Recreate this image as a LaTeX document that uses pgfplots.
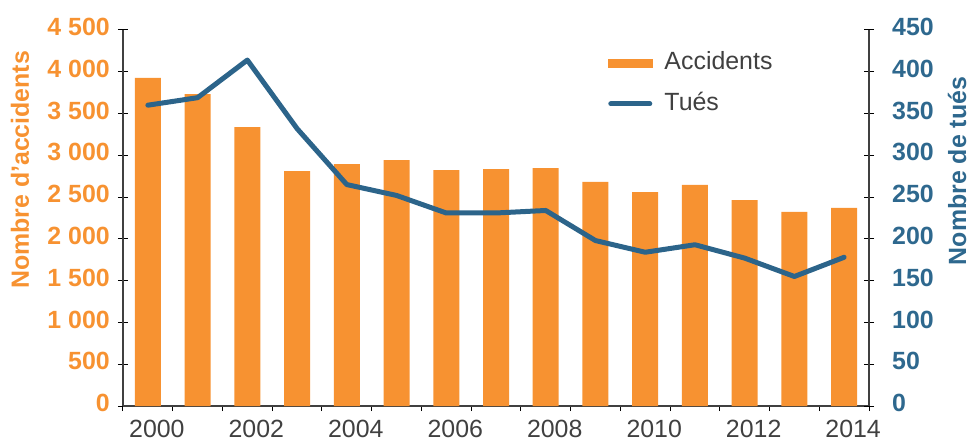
\documentclass[border=0pt]{standalone}
\usepackage{fontspec}
\setmainfont{Liberation Sans}
\usepackage{pgfplots}
\pgfplotsset{compat=1.18}

\definecolor{accorange}{RGB}{247,146,49}
\definecolor{killblue}{RGB}{44,100,138}
\definecolor{labblue}{RGB}{46,104,142}
\definecolor{txtgray}{RGB}{64,64,64}
\newcommand\lbl{\fontsize{25}{30}\selectfont}

\pgfplotsset{
  twoaxes/.style={
    width=746bp, height=376bp, scale only axis,
    xmin=-0.5, xmax=14.5,
    tick align=center,
    major tick length=10bp,
    minor tick length=5bp,
    tick style={color=black, line width=1bp},
    axis line style={color=txtgray, line width=1.3bp, -},
  }
}

\begin{document}
\begin{tikzpicture}
% accidents (bars, left axis)
\begin{axis}[twoaxes, name=main,
  axis x line*=bottom, axis y line*=left,
  ymin=0, ymax=4500,
  ytick={0,500,...,4500},
  yticklabels={0,500,1\ 000,1\ 500,2\ 000,2\ 500,3\ 000,3\ 500,4\ 000,4\ 500},
  yticklabel style={font=\lbl\bfseries, color=accorange, inner sep=0pt, xshift=-8bp, yshift=3bp},
  xtick={0,2,...,14},
  xticklabels={2000,2002,2004,2006,2008,2010,2012,2014},
  xticklabel style={font=\lbl, color=txtgray, inner sep=0pt, xshift=9bp, yshift=-9bp},
  major x tick style={draw=none},
  minor xtick={-0.5,0.5,...,14.5},
  minor x tick style={yshift=-2.5bp},
  ylabel={Nombre d'accidents},
  every axis y label/.style={at={(rel axis cs:0,0.628)}, xshift=-103bp, rotate=90, anchor=center,
    font=\lbl\bfseries, color=accorange},
]
\addplot[ybar, bar width=26bp, fill=accorange, draw=none] coordinates {
  (0,3926) (1,3734) (2,3339) (3,2812) (4,2896) (5,2944) (6,2824) (7,2836)
  (8,2848) (9,2681) (10,2561) (11,2645) (12,2465) (13,2322) (14,2370)
};
\end{axis}
% killed (line, right axis)
\begin{axis}[twoaxes,
  axis x line=none, axis y line*=right,
  ymin=0, ymax=450,
  ytick={0,50,...,450},
  yticklabels={0,50,100,150,200,250,300,350,400,450},
  yticklabel style={font=\lbl\bfseries, color=labblue, inner sep=0pt, anchor=west, xshift=18bp, yshift=3bp},
  ylabel={Nombre de tués},
  every axis y label/.style={at={(rel axis cs:1,0.625)}, xshift=88bp, rotate=90, anchor=center,
    font=\lbl\bfseries, color=labblue},
  legend style={at={(0.650,0.945)}, anchor=north west, draw=none, fill=none,
    font=\lbl, text=txtgray, inner sep=0pt, row sep=17bp, column sep=12bp,
    nodes={inner sep=0pt, text height=19bp, text depth=5bp}},
  legend cell align=left,
]
\addlegendimage{legend image code/.code={\fill[accorange] (0bp,-4bp) rectangle (44bp,4bp);}}
\addlegendentry{Accidents}
\addplot[color=killblue, line width=5bp, line join=round, line cap=round,
  legend image code/.code={\draw[killblue, line width=5bp, line cap=round] (2.5bp,0bp) -- (41.5bp,0bp);}]
  coordinates {
  (0,360) (1,369) (2,414) (3,332) (4,265) (5,252) (6,231) (7,231)
  (8,234) (9,198) (10,184) (11,193) (12,177) (13,155) (14,178)
};
\addlegendentry{Tués}
\end{axis}
\pgfresetboundingbox
\path[use as bounding box] ([xshift=-123bp,yshift=-37bp]main.south west) rectangle ([xshift=101bp,yshift=30bp]main.north east);
\end{tikzpicture}
\end{document}
